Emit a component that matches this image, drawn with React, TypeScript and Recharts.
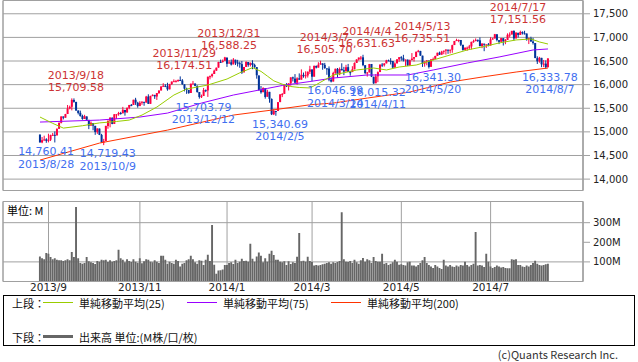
import {
  ComposedChart,
  Bar,
  Line,
  Scatter,
  XAxis,
  YAxis,
  CartesianGrid,
  ReferenceArea,
} from "recharts";

// trading days, grouped by month
const monthDays: [string, number[]][] = [
  ["2013/8", [27, 28, 29, 30]],
  ["2013/9", [3, 4, 5, 6, 9, 10, 11, 12, 13, 16, 17, 18, 19, 20, 23, 24, 25, 26, 27, 30]],
  ["2013/10", [1, 2, 3, 4, 7, 8, 9, 10, 11, 14, 15, 16, 17, 18, 21, 22, 23, 24, 25, 28, 29, 30, 31]],
  ["2013/11", [1, 4, 5, 6, 7, 8, 11, 12, 13, 14, 15, 18, 19, 20, 21, 22, 25, 26, 27, 29]],
  ["2013/12", [2, 3, 4, 5, 6, 9, 10, 11, 12, 13, 16, 17, 18, 19, 20, 23, 24, 26, 27, 30, 31]],
  ["2014/1", [2, 3, 6, 7, 8, 9, 10, 13, 14, 15, 16, 17, 21, 22, 23, 24, 27, 28, 29, 30, 31]],
  ["2014/2", [3, 4, 5, 6, 7, 10, 11, 12, 13, 14, 18, 19, 20, 21, 24, 25, 26, 27, 28]],
  ["2014/3", [3, 4, 5, 6, 7, 10, 11, 12, 13, 14, 17, 18, 19, 20, 21, 24, 25, 26, 27, 28, 31]],
  ["2014/4", [1, 2, 3, 4, 7, 8, 9, 10, 11, 14, 15, 16, 17, 21, 22, 23, 24, 25, 28, 29, 30]],
  ["2014/5", [1, 2, 5, 6, 7, 8, 9, 12, 13, 14, 15, 16, 19, 20, 21, 22, 23, 27, 28, 29, 30]],
  ["2014/6", [2, 3, 4, 5, 6, 9, 10, 11, 12, 13, 16, 17, 18, 19, 20, 23, 24, 25, 26, 27, 30]],
  ["2014/7", [1, 2, 3, 7, 8, 9, 10, 11, 14, 15, 16, 17, 18, 21, 22, 23, 24, 25, 28, 29, 30, 31]],
  ["2014/8", [1, 4, 5, 6, 7, 8]],
];

// open, high, low, close
const candles: [number, number, number, number][] = [
  // 2013/8
  [14942, 14946, 14776, 14776], [14777, 14891, 14760.41, 14824], [14824, 14919, 14812, 14840], [14843, 14866, 14769, 14810],
  // 2013/9
  [14810, 14961, 14777, 14834], [14834, 14941, 14806, 14931], [14931, 14978, 14917, 14938], [14937, 15009, 14776, 14922],
  [14925, 15076, 14925, 15063], [15065, 15201, 15065, 15191], [15192, 15330, 15179, 15326], [15326, 15326, 15264, 15300],
  [15300, 15381, 15300, 15376], [15378, 15569, 15378, 15494], [15495, 15556, 15477, 15529], [15531, 15709.58, 15455, 15677],
  [15675, 15709, 15618, 15636], [15633, 15638, 15446, 15452], [15451, 15457, 15369, 15401], [15403, 15450, 15323, 15335],
  [15336, 15364, 15257, 15273], [15273, 15361, 15273, 15329], [15327, 15327, 15238, 15258], [15254, 15254, 15058, 15130],
  // 2013/10
  [15132, 15222, 15132, 15192], [15185, 15185, 15034, 15133], [15128, 15128, 14937, 14996], [14996, 15074, 14958, 15073],
  [15070, 15070, 14932, 14936], [14935, 14958, 14774, 14776], [14777, 14852, 14719.43, 14802], [14805, 15130, 14805, 15126],
  [15124, 15237, 15066, 15237], [15236, 15309, 15096, 15301], [15300, 15305, 15162, 15168], [15169, 15376, 15169, 15373],
  [15367, 15375, 15273, 15372], [15372, 15424, 15342, 15400], [15400, 15424, 15364, 15392], [15393, 15529, 15393, 15468],
  [15465, 15465, 15343, 15413], [15413, 15514, 15403, 15510], [15509, 15570, 15478, 15570], [15571, 15590, 15544, 15569],
  [15569, 15680, 15569, 15680], [15681, 15721, 15571, 15619], [15616, 15636, 15512, 15546],
  // 2013/11
  [15546, 15650, 15546, 15616], [15617, 15645, 15574, 15639], [15636, 15636, 15553, 15619], [15620, 15762, 15620, 15747],
  [15748, 15796, 15590, 15594], [15594, 15764, 15594, 15762], [15762, 15793, 15754, 15784], [15783, 15783, 15698, 15751],
  [15748, 15822, 15676, 15822], [15821, 15877, 15805, 15876], [15876, 15962, 15876, 15962], [15963, 16030, 15952, 15976],
  [15975, 16008, 15947, 15968], [15967, 16040, 15871, 15901], [15900, 16017, 15900, 16010], [16010, 16065, 15995, 16065],
  [16065, 16111, 16060, 16073], [16073, 16100, 16052, 16073], [16073, 16110, 16062, 16097], [16098, 16174.51, 16076, 16086],
  // 2013/12
  [16087, 16117, 15997, 16008], [16006, 16006, 15857, 15915], [15913, 15935, 15805, 15889], [15888, 15888, 15807, 15821],
  [15823, 16021, 15823, 16020], [16020, 16078, 16020, 16025], [16024, 16024, 15966, 15973], [15973, 15986, 15830, 15844],
  [15843, 15843, 15703.79, 15739], [15740, 15789, 15717, 15755], [15759, 15930, 15759, 15885], [15884, 15897, 15841, 15875],
  [15876, 16168, 15740, 16168], [16164, 16194, 16112, 16179], [16181, 16237, 16151, 16221], [16225, 16318, 16225, 16295],
  [16295, 16362, 16292, 16358], [16360, 16483, 16360, 16479], [16480, 16529, 16461, 16479], [16479, 16533, 16465, 16505],
  [16505, 16588.25, 16502, 16577],
  // 2014/1
  [16572, 16573, 16375, 16441], [16456, 16519, 16441, 16470], [16474, 16532, 16405, 16425], [16429, 16562, 16429, 16531],
  [16527, 16528, 16416, 16463], [16471, 16525, 16384, 16444], [16453, 16487, 16357, 16437], [16434, 16500, 16227, 16257],
  [16260, 16374, 16259, 16374], [16375, 16492, 16375, 16482], [16479, 16479, 16378, 16418], [16417, 16470, 16385, 16459],
  [16460, 16516, 16327, 16415], [16417, 16443, 16355, 16374], [16371, 16371, 16126, 16198], [16194, 16194, 15879, 15879],
  [15880, 15971, 15808, 15838], [15840, 15944, 15840, 15929], [15924, 15924, 15703, 15739], [15744, 15891, 15744, 15849],
  [15847, 15847, 15617, 15699],
  // 2014/2
  [15697, 15708, 15356, 15373], [15372, 15481, 15356, 15445], [15443, 15443, 15340.69, 15440], [15443, 15632, 15443, 15629],
  [15630, 15798, 15630, 15794], [15794, 15823, 15736, 15801], [15804, 16009, 15804, 15995], [15994, 16031, 15949, 15964],
  [15961, 16029, 15877, 16028], [16026, 16154, 15978, 16154], [16154, 16169, 16067, 16130], [16127, 16223, 16036, 16041],
  [16041, 16156, 15996, 16133], [16134, 16238, 16104, 16104], [16106, 16323, 16106, 16208], [16207, 16256, 16147, 16180],
  [16180, 16283, 16130, 16198], [16194, 16279, 16150, 16273], [16273, 16398, 16225, 16322],
  // 2014/3
  [16321, 16321, 16071, 16168], [16169, 16406, 16169, 16396], [16395, 16406, 16343, 16361], [16361, 16474, 16361, 16422],
  [16424, 16505.7, 16424, 16453], [16450, 16450, 16315, 16418], [16419, 16460, 16335, 16351], [16345, 16345, 16208, 16341],
  [16340, 16386, 16071, 16108], [16105, 16156, 16046.99, 16065], [16066, 16273, 16066, 16247], [16247, 16337, 16228, 16337],
  [16334, 16352, 16145, 16223], [16218, 16364, 16200, 16331], [16333, 16452, 16303, 16303], [16305, 16376, 16201, 16276],
  [16281, 16420, 16281, 16368], [16370, 16439, 16268, 16268], [16265, 16291, 16190, 16264], [16266, 16390, 16266, 16323],
  [16324, 16470, 16324, 16458],
  // 2014/4
  [16458, 16537, 16458, 16533], [16532, 16574, 16507, 16573], [16573, 16605, 16522, 16573], [16578, 16631.63, 16390, 16413],
  [16411, 16411, 16220, 16246], [16243, 16267, 16170, 16257], [16258, 16438, 16258, 16437], [16437, 16437, 16160, 16171],
  [16167, 16167, 16015.32, 16027], [16029, 16224, 16029, 16174], [16176, 16280, 16052, 16263], [16266, 16425, 16266, 16425],
  [16424, 16456, 16374, 16409], [16412, 16453, 16383, 16449], [16450, 16526, 16450, 16514], [16513, 16530, 16497, 16502],
  [16503, 16560, 16427, 16501], [16499, 16499, 16345, 16361], [16365, 16474, 16350, 16448], [16450, 16540, 16450, 16535],
  [16534, 16581, 16483, 16581],
  // 2014/5
  [16580, 16603, 16506, 16559], [16560, 16631, 16491, 16513], [16509, 16531, 16395, 16531], [16530, 16530, 16399, 16402],
  [16404, 16530, 16404, 16518], [16519, 16668, 16513, 16551], [16550, 16586, 16488, 16583], [16584, 16702, 16584, 16695],
  [16694, 16735.51, 16682, 16715], [16713, 16715, 16610, 16614], [16613, 16613, 16375, 16447], [16445, 16492, 16379, 16491],
  [16488, 16519, 16410, 16511], [16509, 16509, 16341.3, 16374], [16377, 16543, 16377, 16533], [16533, 16574, 16516, 16543],
  [16544, 16613, 16543, 16606], [16608, 16676, 16608, 16675], [16676, 16699, 16628, 16633], [16634, 16716, 16634, 16698],
  [16699, 16723, 16644, 16717],
  // 2014/6
  [16718, 16746, 16635, 16744], [16740, 16740, 16652, 16722], [16722, 16745, 16662, 16738], [16737, 16845, 16674, 16836],
  [16838, 16925, 16838, 16924], [16924, 16971, 16923, 16943], [16943, 16956, 16898, 16945], [16945, 16945, 16816, 16844],
  [16843, 16843, 16720, 16735], [16736, 16796, 16736, 16776], [16777, 16805, 16716, 16781], [16781, 16841, 16739, 16808],
  [16808, 16908, 16746, 16906], [16906, 16952, 16886, 16921], [16920, 16978, 16920, 16947], [16948, 16954, 16903, 16937],
  [16938, 17000, 16808, 16818], [16816, 16879, 16772, 16868], [16867, 16867, 16708, 16846], [16846, 16853, 16776, 16851],
  [16852, 16881, 16810, 16827],
  // 2014/7
  [16828, 17004, 16828, 16956], [16957, 16990, 16953, 16976], [16977, 17074, 16977, 17068], [17066, 17066, 16915, 16944],
  [16941, 16941, 16858, 16906], [16907, 16986, 16907, 16985], [16983, 16983, 16828, 16915], [16917, 16965, 16856, 16944],
  [16945, 17086, 16945, 17055], [17056, 17106, 16999, 17061], [17061, 17139, 17061, 17138], [17136, 17151.56, 16933, 16977],
  [16978, 17110, 16978, 17100], [17097, 17097, 16998, 17052], [17053, 17142, 17053, 17114], [17115, 17128, 17061, 17087],
  [17087, 17140, 17062, 17083], [17082, 17082, 16930, 16961], [16961, 16992, 16859, 16983], [16983, 17014, 16911, 16912],
  [16913, 16992, 16848, 16881], [16880, 16880, 16560, 16563],
  // 2014/8
  [16561, 16600, 16437, 16493], [16493, 16588, 16465, 16569], [16567, 16567, 16370, 16430], [16427, 16522, 16371, 16443],
  [16445, 16514, 16333.78, 16369], [16368, 16560, 16368, 16554],
];

// volume, M
const volumes: number[] = [
  128, 118, 114, 145, 141, 125, 114, 118, 111, 108, 109, 104, 108, 114, 108, 150, 125, 380,
  118, 94, 91, 94, 125, 103, 98, 94, 89, 104, 101, 111, 109, 111, 99, 108, 101, 104, 108, 162,
  118, 111, 98, 114, 104, 99, 114, 101, 96, 118, 93, 103, 114, 111, 101, 98, 109, 101, 94, 131,
  131, 111, 91, 101, 94, 91, 111, 104, 77, 91, 94, 108, 114, 131, 114, 98, 91, 108, 106, 84,
  111, 136, 104, 288, 86, 40, 56, 57, 61, 84, 84, 94, 98, 89, 111, 94, 101, 116, 104, 106,
  101, 192, 116, 101, 128, 148, 131, 98, 118, 101, 141, 157, 135, 111, 111, 101, 98, 103, 84, 103,
  89, 98, 94, 126, 247, 103, 106, 101, 126, 104, 99, 82, 84, 81, 84, 88, 91, 94, 98, 91,
  98, 94, 99, 104, 353, 114, 101, 99, 104, 94, 111, 98, 91, 108, 120, 101, 114, 108, 94, 125,
  105, 101, 101, 141, 91, 94, 84, 91, 98, 111, 101, 86, 88, 84, 81, 98, 101, 81, 81, 77,
  84, 94, 108, 125, 94, 84, 77, 69, 84, 77, 69, 64, 111, 81, 77, 84, 77, 74, 81, 77,
  84, 81, 101, 84, 77, 84, 91, 252, 81, 84, 81, 74, 141, 101, 77, 69, 74, 81, 77, 71,
  74, 69, 67, 67, 114, 111, 114, 84, 84, 77, 74, 81, 77, 84, 94, 106, 91, 84, 81, 84, 88, 91,
];

// moving averages
const ma25: [string, number][] = [
  ["2013/8/27", 15314], ["2013/9/5", 15180], ["2013/9/12", 15080], ["2013/9/25", 15130], ["2013/10/7", 15190],
  ["2013/10/17", 15220], ["2013/10/25", 15250], ["2013/11/4", 15356], ["2013/11/13", 15526], ["2013/11/25", 15780],
  ["2013/12/4", 15907], ["2013/12/18", 15992], ["2014/1/2", 16119], ["2014/1/10", 16250], ["2014/1/21", 16360],
  ["2014/1/27", 16280], ["2014/1/30", 16180], ["2014/2/4", 16080], ["2014/2/10", 16010], ["2014/2/14", 15960],
  ["2014/2/21", 15940], ["2014/2/28", 15930], ["2014/3/5", 16000], ["2014/3/17", 16204], ["2014/4/1", 16310],
  ["2014/4/11", 16352], ["2014/4/22", 16310], ["2014/4/30", 16373], ["2014/5/12", 16415], ["2014/5/22", 16521],
  ["2014/6/4", 16628], ["2014/6/16", 16734], ["2014/6/25", 16797], ["2014/7/8", 16882], ["2014/7/18", 16946],
  ["2014/7/29", 16967], ["2014/8/4", 16903], ["2014/8/8", 16860],
];
const ma75: [string, number][] = [
  ["2013/8/27", 15208], ["2013/10/7", 15250], ["2013/11/1", 15314], ["2013/11/20", 15398], ["2013/12/13", 15610],
  ["2014/1/7", 15780], ["2014/1/30", 15920], ["2014/2/10", 15982], ["2014/2/28", 16066], ["2014/3/17", 16140],
  ["2014/4/8", 16204], ["2014/5/6", 16204], ["2014/5/22", 16310], ["2014/6/16", 16458], ["2014/7/8", 16585],
  ["2014/7/30", 16734], ["2014/8/8", 16755],
];
const ma200: [string, number][] = [
  ["2013/8/27", 14403], ["2013/10/7", 14763], ["2013/11/20", 15038], ["2014/1/7", 15356], ["2014/2/4", 15467],
  ["2014/2/28", 15573], ["2014/3/17", 15610], ["2014/4/8", 15716], ["2014/5/7", 15843], ["2014/6/4", 16055],
  ["2014/6/25", 16161], ["2014/7/18", 16267], ["2014/8/8", 16352],
];

const highMarks: [string, number][] = [
  ["2013/9/18", 15709.58], ["2013/11/29", 16174.51], ["2013/12/31", 16588.25], ["2014/3/7", 16505.7],
  ["2014/4/4", 16631.63], ["2014/5/13", 16735.51], ["2014/7/17", 17151.56],
];
const lowMarks: [string, number][] = [
  ["2013/8/28", 14760.41], ["2013/10/9", 14719.43], ["2013/12/12", 15703.79], ["2014/2/5", 15340.69],
  ["2014/3/14", 16046.99], ["2014/4/11", 16015.32], ["2014/5/20", 16341.3], ["2014/8/7", 16333.78],
];

const monthTicks: [string, string][] = [
  ["2013/9/3", "2013/9"], ["2013/11/1", "2013/11"], ["2014/1/2", "2014/1"],
  ["2014/3/3", "2014/3"], ["2014/5/1", "2014/5"], ["2014/7/1", "2014/7"],
];
const priceTicks = [14000, 14500, 15000, 15500, 16000, 16500, 17000, 17500];
const volTicks = [100, 200, 300];

const X_DOMAIN: [number, number] = [-17.41, 255.47];
const PRICE_DOMAIN: [number, number] = [13759, 17781];
const VOL_DOMAIN: [number, number] = [0, 408];

const UP = "#ff0040";
const DOWN = "#003399";
const GRID = "#a0a0a0";
const FONT = "'DejaVu Sans', 'Noto Sans CJK JP', sans-serif";
const JP = "'Noto Sans CJK JP', 'DejaVu Sans', sans-serif";

const dates = monthDays.flatMap(([m, ds]) => ds.map((d) => `${m}/${d}`));
const indexOf = (d: string) => dates.indexOf(d);
const toMap = (arr: [string, number][]) => new Map(arr.map(([d, v]) => [d, v]));
const m25 = toMap(ma25);
const m75 = toMap(ma75);
const m200 = toMap(ma200);

const rows = dates.map((date, i) => {
  const [o, h, l, c] = candles[i];
  return {
    i,
    date,
    o,
    h,
    l,
    c,
    range: [l, h],
    vol: volumes[i],
    ma25: m25.get(date) ?? null,
    ma75: m75.get(date) ?? null,
    ma200: m200.get(date) ?? null,
  };
});

const highPts = highMarks.map(([date, v]) => ({ i: indexOf(date), v, date }));
const lowPts = lowMarks.map(([date, v]) => ({ i: indexOf(date), v, date }));
const gridIdx = monthTicks.map(([d]) => indexOf(d));
const tickLabel = new Map(monthTicks.map(([d, lab]) => [indexOf(d), lab]));

const fmt = (v: number) => v.toLocaleString("en-US", { minimumFractionDigits: 2, maximumFractionDigits: 2 });

const Candle = (props: any) => {
  const { x, y, width, height, payload } = props;
  if (!payload) return null;
  const { o, h, l, c } = payload;
  const top = Math.min(y, y + height);
  const hh = Math.abs(height);
  const cx = x + width / 2;
  const k = h === l ? 0 : hh / (h - l);
  const py = (v: number) => top + (h - v) * k;
  const color = c >= o ? UP : DOWN;
  const b1 = py(Math.max(o, c));
  const b2 = py(Math.min(o, c));
  return (
    <g>
      <line x1={cx} x2={cx} y1={top} y2={top + hh} stroke={color} strokeWidth={1} />
      <rect x={cx - 1} y={b1} width={2} height={Math.max(1, b2 - b1)} fill={color} />
    </g>
  );
};

const HighLabel = (props: any) => {
  const { cx, cy, payload } = props;
  return (
    <g fill="#cc3333" fontSize={11} fontFamily={FONT} textAnchor="middle">
      <text x={cx + 4} y={cy - 19.7}>{payload.date}</text>
      <text x={cx + 4} y={cy - 7.7}>{fmt(payload.v)}</text>
    </g>
  );
};

const LowLabel = (props: any) => {
  const { cx, cy, payload } = props;
  return (
    <g fill="#3f6ff0" fontSize={11} fontFamily={FONT} textAnchor="middle">
      <text x={cx + 4} y={cy + 12}>{fmt(payload.v)}</text>
      <text x={cx + 4} y={cy + 24.5}>{payload.date}</text>
    </g>
  );
};

const axisTick = { fontSize: 10, fill: "#222", fontFamily: FONT };

const legendText: React.CSSProperties = { position: "absolute", fontSize: 11, fontFamily: JP, color: "#111", lineHeight: "14px", whiteSpace: "nowrap" };

export default function App() {
  return (
    <div style={{ position: "absolute", left: 0, top: 0, width: 638, height: 362, background: "#fff", fontFamily: FONT, overflow: "hidden" }}>
      <div style={{ position: "absolute", left: 0, top: 0 }}>
        <ComposedChart width={638} height={200} data={rows} margin={{ top: 0.5, right: 0, bottom: 9.5, left: 3 }}>
          <CartesianGrid stroke={GRID} />
          <XAxis
            dataKey="i"
            type="number"
            domain={X_DOMAIN}
            ticks={gridIdx}
            allowDataOverflow
            height={0}
            tick={false}
            tickLine={false}
            axisLine={false}
          />
          <YAxis
            orientation="right"
            type="number"
            domain={PRICE_DOMAIN}
            ticks={priceTicks}
            allowDataOverflow
            width={55}
            tickSize={7}
            tickMargin={3}
            tickLine={{ stroke: GRID }}
            axisLine={{ stroke: GRID }}
            tick={axisTick}
            tickFormatter={(v: number) => v.toLocaleString("en-US")}
          />
          <ReferenceArea
            x1={X_DOMAIN[0]}
            x2={X_DOMAIN[1]}
            y1={PRICE_DOMAIN[0]}
            y2={PRICE_DOMAIN[1]}
            fill="none"
            stroke={GRID}
            ifOverflow="visible"
          />
          <Bar dataKey="range" barSize={2} shape={<Candle />} isAnimationActive={false} />
          <Line dataKey="ma200" stroke="#ff3300" strokeWidth={1} dot={false} connectNulls type="linear" isAnimationActive={false} />
          <Line dataKey="ma75" stroke="#9900ff" strokeWidth={1} dot={false} connectNulls type="linear" isAnimationActive={false} />
          <Line dataKey="ma25" stroke="#99cc00" strokeWidth={1} dot={false} connectNulls type="linear" isAnimationActive={false} />
          <Scatter data={highPts} dataKey="v" shape={HighLabel} isAnimationActive={false} />
          <Scatter data={lowPts} dataKey="v" shape={LowLabel} isAnimationActive={false} />
        </ComposedChart>
      </div>

      <div style={{ position: "absolute", left: 0, top: 0 }}>
        <ComposedChart width={638} height={300} data={rows} margin={{ top: 201.5, right: 0, bottom: 0, left: 3 }}>
          <CartesianGrid stroke={GRID} />
          <XAxis
            dataKey="i"
            type="number"
            domain={X_DOMAIN}
            ticks={gridIdx}
            allowDataOverflow
            height={18.5}
            tickSize={0}
            tickMargin={2}
            tickLine={false}
            axisLine={{ stroke: GRID }}
            tick={{ fontSize: 10.5, fill: "#222", fontFamily: FONT }}
            tickFormatter={(v: number) => tickLabel.get(v) ?? ""}
          />
          <YAxis
            orientation="right"
            type="number"
            domain={VOL_DOMAIN}
            ticks={volTicks}
            allowDataOverflow
            width={55}
            tickSize={7}
            tickMargin={3}
            tickLine={{ stroke: GRID }}
            axisLine={{ stroke: GRID }}
            tick={axisTick}
            tickFormatter={(v: number) => `${v}M`}
          />
          <ReferenceArea
            x1={X_DOMAIN[0]}
            x2={X_DOMAIN[1]}
            y1={VOL_DOMAIN[0]}
            y2={VOL_DOMAIN[1]}
            fill="none"
            stroke={GRID}
            ifOverflow="visible"
          />
          <Bar dataKey="vol" barSize={2.2} fill="#666666" isAnimationActive={false} />
        </ComposedChart>
      </div>

      <div style={{ ...legendText, left: 7, top: 203, color: "#000" }}>単位: M</div>

      <div
        style={{
          position: "absolute",
          left: 3,
          top: 295,
          width: 632,
          height: 51,
          border: "1px solid #000",
          boxSizing: "border-box",
        }}
      />
      <div style={{ ...legendText, left: 12, top: 296 }}>上段：</div>
      <div style={{ position: "absolute", left: 43, top: 302, width: 30, height: 1, background: "#99cc00" }} />
      <div style={{ ...legendText, left: 79, top: 296 }}>単純移動平均(25)</div>
      <div style={{ position: "absolute", left: 187, top: 302, width: 30, height: 1, background: "#9900ff" }} />
      <div style={{ ...legendText, left: 223, top: 296 }}>単純移動平均(75)</div>
      <div style={{ position: "absolute", left: 331, top: 302, width: 30, height: 1, background: "#ff3300" }} />
      <div style={{ ...legendText, left: 367, top: 296 }}>単純移動平均(200)</div>

      <div style={{ ...legendText, left: 12, top: 330 }}>下段：</div>
      <div style={{ position: "absolute", left: 43, top: 335, width: 30, height: 3, background: "#666666" }} />
      <div style={{ ...legendText, left: 79, top: 330 }}>出来高 単位:(M株/口/枚)</div>

      <div style={{ ...legendText, right: 20, top: 348, lineHeight: "13px", color: "#333" }}>(c)Quants Research Inc.</div>
    </div>
  );
}
